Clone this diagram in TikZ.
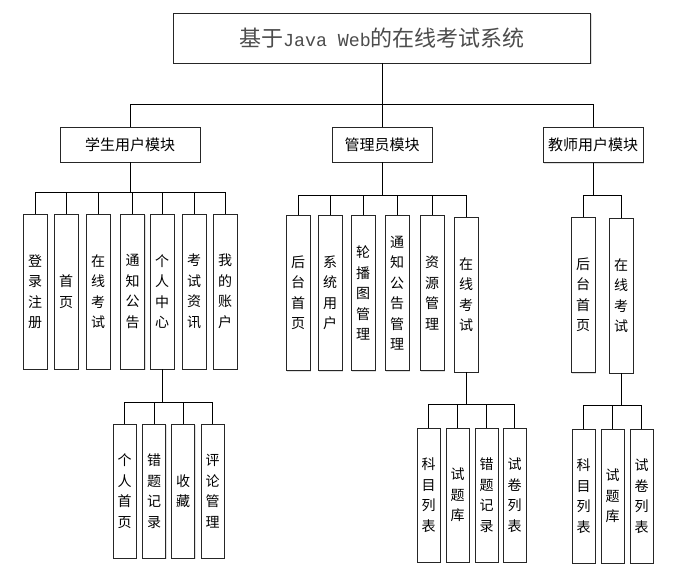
\documentclass[tikz,border=0pt]{standalone}
\usepackage{fontspec}
\newfontfamily\cjk{Noto Sans CJK SC}
\newfontfamily\titlelat{Liberation Mono}
\usetikzlibrary{shadows}
\begin{document}
\begin{tikzpicture}[x=1pt,y=-1pt,
  box/.style={draw=black!85, line width=0.8pt, fill=white, inner sep=0pt,
    drop shadow={shadow xshift=1.2pt, shadow yshift=-1.2pt, opacity=0.25}},
  leaf/.style={box, minimum width=24pt, minimum height=155pt, align=center,
    font=\cjk\fontsize{14}{20.5}\selectfont},
  subleaf/.style={box, minimum width=23pt, minimum height=134pt, align=center,
    font=\cjk\fontsize{14}{20.5}\selectfont},
  modbox/.style={box, minimum height=35pt, font=\cjk\fontsize{15}{18}\selectfont},
  link/.style={draw=black, line width=0.8pt}
]
\useasboundingbox (0,0) rectangle (677,585);

% title
\node[box, minimum width=417pt, minimum height=50pt, text=black!70,
  font=\fontsize{22}{26}\selectfont] (title) at (382,38)
  {{\cjk 基于}{\titlelat\fontsize{18.3}{26}\selectfont Java Web}{\cjk 的在线考试系统}};

% modules
\node[modbox, minimum width=140pt] (stu) at (130,144.5) {学生用户模块};
\node[modbox, minimum width=100pt] (adm) at (382,144.5) {管理员模块};
\node[modbox, minimum width=100pt] (tea) at (593,145) {教师用户模块};

\coordinate (topbus) at (0,104);
\coordinate (sbus) at (0,192);
\coordinate (abus) at (0,195);
\coordinate (tbus) at (0,195);
\coordinate (ssbus) at (0,402);
\coordinate (asbus) at (0,404);
\coordinate (tsbus) at (0,405);

% student leaves
\node[leaf] (s1) at (35,291.5) {登\\录\\注\\册};
\node[leaf] (s2) at (66,291.5) {首\\页};
\node[leaf] (s3) at (98,291.5) {在\\线\\考\\试};
\node[leaf] (s4) at (132.5,291.5) {通\\知\\公\\告};
\node[leaf] (s5) at (162,291.5) {个\\人\\中\\心};
\node[leaf] (s6) at (194,291.5) {考\\试\\资\\讯};
\node[leaf] (s7) at (225,291.5) {我\\的\\账\\户};

% admin leaves
\node[leaf] (a1) at (298,293) {后\\台\\首\\页};
\node[leaf] (a2) at (330,293) {系\\统\\用\\户};
\node[leaf] (a3) at (363,293) {轮\\播\\图\\管\\理};
\node[leaf] (a4) at (397,293) {通\\知\\公\\告\\管\\理};
\node[leaf] (a5) at (432,293) {资\\源\\管\\理};
\node[leaf] (a6) at (466,294.5) {在\\线\\考\\试};

% teacher leaves
\node[leaf] (t1) at (583,295) {后\\台\\首\\页};
\node[leaf] (t2) at (621,295.5) {在\\线\\考\\试};

% student sub leaves
\node[subleaf] (p1) at (124.5,491) {个\\人\\首\\页};
\node[subleaf] (p2) at (154,491) {错\\题\\记\\录};
\node[subleaf] (p3) at (183,491) {收\\藏};
\node[subleaf] (p4) at (212.5,491) {评\\论\\管\\理};

% admin exam sub leaves
\node[subleaf] (e1) at (428.5,495) {科\\目\\列\\表};
\node[subleaf] (e2) at (457.5,495) {试\\题\\库};
\node[subleaf] (e3) at (486.5,495) {错\\题\\记\\录};
\node[subleaf] (e4) at (514.5,495) {试\\卷\\列\\表};

% teacher exam sub leaves
\node[subleaf] (f1) at (583.5,496) {科\\目\\列\\表};
\node[subleaf] (f2) at (612.5,496) {试\\题\\库};
\node[subleaf] (f3) at (641.5,496) {试\\卷\\列\\表};

% connectors
\draw[link] (title.south) -- (adm.north);
\draw[link] (stu.north) |- (tea.north |- topbus) -- (tea.north);

\foreach \c in {s1,s2,s3,s4,s5,s6,s7}
  \draw[link] (stu.south) |- (\c.north |- sbus) -- (\c.north);
\foreach \c in {a1,a2,a3,a4,a5,a6}
  \draw[link] (adm.south) |- (\c.north |- abus) -- (\c.north);
\foreach \c in {t1,t2}
  \draw[link] (tea.south) |- (\c.north |- tbus) -- (\c.north);
\foreach \c in {p1,p2,p3,p4}
  \draw[link] (s5.south) |- (\c.north |- ssbus) -- (\c.north);
\foreach \c in {e1,e2,e3,e4}
  \draw[link] (a6.south) |- (\c.north |- asbus) -- (\c.north);
\foreach \c in {f1,f2,f3}
  \draw[link] (t2.south) |- (\c.north |- tsbus) -- (\c.north);
\end{tikzpicture}
\end{document}
